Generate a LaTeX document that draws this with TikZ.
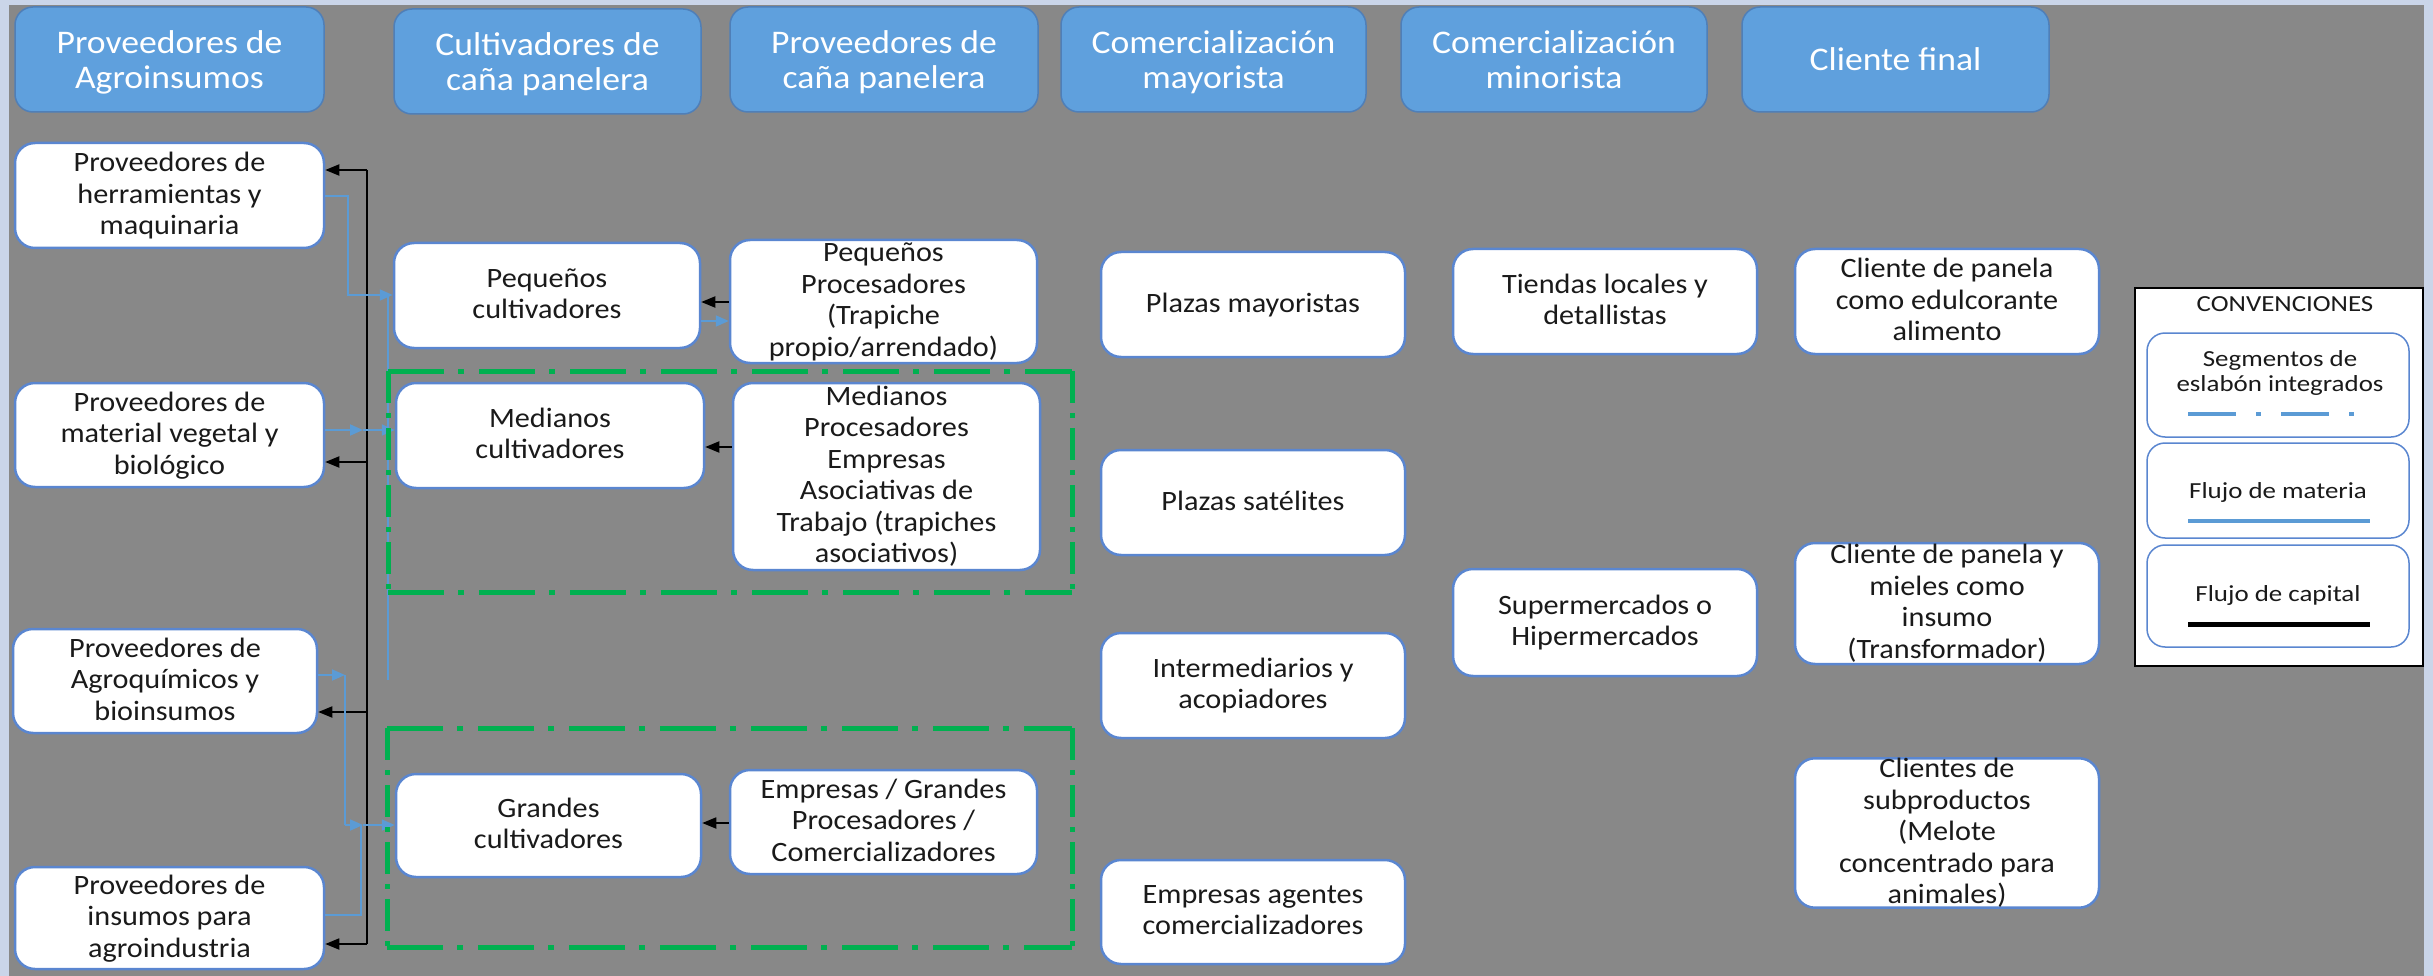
\documentclass[tikz,border=0pt]{standalone}
\usepackage{fontspec}
\setmainfont{Carlito}[FakeStretch=1.08]
\newfontfamily\legfont{Carlito}[FakeStretch=1.17]
\usetikzlibrary{arrows.meta}
\definecolor{framecol}{HTML}{CAD5E9}
\definecolor{bgcol}{HTML}{888888}
\definecolor{titlefill}{HTML}{5FA0DD}
\definecolor{titleedge}{HTML}{4F7FB8}
\definecolor{boxedge}{HTML}{5A86D0}
\definecolor{flowblue}{HTML}{5B9BD5}
\definecolor{segreen}{HTML}{00B050}
\definecolor{ink}{HTML}{1A1A1A}
\tikzset{
  titlebox/.style={rounded corners=18pt, fill=titlefill, draw=titleedge, line width=1.5pt,
    text=white, font=\fontsize{33}{35}\selectfont, align=center, inner sep=0pt, text depth=-3pt},
  wbox/.style={rounded corners=20pt, fill=white, draw=boxedge, line width=2.5pt,
    text=ink, font=\fontsize{28}{31.5}\selectfont, align=center, inner sep=0pt, text depth=4pt},
  lbox/.style={rounded corners=18pt, fill=white, draw=boxedge, line width=1.5pt,
    minimum width=262pt, inner sep=0pt},
  ltext/.style={text=ink, font=\legfont\fontsize{23}{25.5}\selectfont, align=center, inner sep=0pt},
  capline/.style={draw=black, line width=1.8pt},
  capflow/.style={capline, -{Triangle[length=14pt,width=11pt]}},
  matline/.style={draw=flowblue, line width=1.8pt},
  matflow/.style={matline, -{Triangle[length=13pt,width=11pt]}},
  seghor/.style={draw=segreen, line width=5pt, dash pattern=on 56pt off 14pt on 6pt off 15pt},
  segver/.style={draw=segreen, line width=5pt, dash pattern=on 32pt off 10pt on 5pt off 10pt},
}
\begin{document}
\begin{tikzpicture}[x=1pt,y=-1pt]
% background and frame
\fill[framecol] (0,0) rectangle (2433,976);
\useasboundingbox (0,0) rectangle (2433,976);
\fill[bgcol] (9,5) rectangle (2424,976);

% title row
\node[titlebox, minimum width=309pt, minimum height=105pt] (t1) at (169.5,59.5) {Proveedores de\\Agroinsumos};
\node[titlebox, minimum width=307pt, minimum height=105pt] (t2) at (547.5,61.5) {Cultivadores de\\caña panelera};
\node[titlebox, minimum width=308pt, minimum height=105pt] (t3) at (884,59.5) {Proveedores de\\caña panelera};
\node[titlebox, minimum width=305pt, minimum height=105pt] (t4) at (1213.5,59.5) {Comercialización\\mayorista};
\node[titlebox, minimum width=306pt, minimum height=105pt] (t5) at (1554,59.5) {Comercialización\\minorista};
\node[titlebox, minimum width=307pt, minimum height=105pt] (t6) at (1895.5,59.5) {Cliente final};

% column 1
\node[wbox, minimum width=309pt, minimum height=105pt] (a1) at (169.5,195.5) {Proveedores de\\herramientas y\\maquinaria};
\node[wbox, minimum width=309pt, minimum height=104pt] (a2) at (169.5,435) {Proveedores de\\material vegetal y\\biológico};
\node[wbox, minimum width=304pt, minimum height=104pt] (a3) at (165,681) {Proveedores de\\Agroquímicos y\\bioinsumos};
\node[wbox, minimum width=309pt, minimum height=102pt] (a4) at (169.5,918) {Proveedores de\\insumos para\\agroindustria};

% column 2
\node[wbox, minimum width=306pt, minimum height=105pt] (c1) at (547,295.5) {Pequeños\\cultivadores};
\node[wbox, minimum width=308pt, minimum height=105pt] (c2) at (550,435.5) {Medianos\\cultivadores};
\node[wbox, minimum width=305pt, minimum height=103pt] (c3) at (548.5,825.5) {Grandes\\cultivadores};

% column 3
\node[wbox, minimum width=307pt, minimum height=123pt] (p1) at (883.5,301.5) {Pequeños\\Procesadores\\(Trapiche\\propio/arrendado)};
\node[wbox, minimum width=307pt, minimum height=187pt] (p2) at (886.5,476.5) {Medianos\\Procesadores\\Empresas\\Asociativas de\\Trabajo (trapiches\\asociativos)};
\node[wbox, minimum width=307pt, minimum height=104pt] (p3) at (883.5,822) {Empresas / Grandes\\Procesadores /\\Comercializadores};

% column 4
\node[wbox, minimum width=304pt, minimum height=105pt] (m1) at (1253,304.5) {Plazas mayoristas};
\node[wbox, minimum width=304pt, minimum height=105pt] (m2) at (1253,502.5) {Plazas satélites};
\node[wbox, minimum width=304pt, minimum height=105pt] (m3) at (1253,685.5) {Intermediarios y\\acopiadores};
\node[wbox, minimum width=304pt, minimum height=104pt] (m4) at (1253,912) {Empresas agentes\\comercializadores};

% column 5
\node[wbox, minimum width=304pt, minimum height=105pt] (r1) at (1605,301.5) {Tiendas locales y\\detallistas};
\node[wbox, minimum width=304pt, minimum height=107pt] (r2) at (1605,622.5) {Supermercados o\\Hipermercados};

% column 6
\node[wbox, minimum width=304pt, minimum height=105pt] (f1) at (1947,301.5) {Cliente de panela\\como edulcorante\\alimento};
\node[wbox, minimum width=304pt, minimum height=121pt] (f2) at (1947,603.5) {Cliente de panela y\\mieles como\\insumo\\(Transformador)};
\node[wbox, minimum width=304pt, minimum height=148pt] (f3) at (1947,833) {Clientes de\\subproductos\\(Melote\\concentrado para\\animales)};

% capital flow (black)
\coordinate (sp1) at (367,170);
\coordinate (sp2) at (367,462);
\coordinate (sp3) at (367,712);
\coordinate (sp4) at (367,944);
\draw[capline] (sp1) -- (sp4);
\draw[capflow] (sp1) -- (a1.east |- sp1);
\draw[capflow] (sp2) -- (a2.east |- sp2);
\draw[capflow] (sp3) -- (a3.east |- sp3);
\draw[capflow] (sp4) -- (a4.east |- sp4);
\draw[capflow] (p1.west |- 0,302) -- (c1.east |- 0,302);
\draw[capflow] (p2.west |- 0,447) -- (c2.east |- 0,447);
\draw[capflow] (p3.west |- 0,823) -- (c3.east |- 0,823);

% material flow (blue)
\coordinate (bend1) at (348,295);
\draw[matflow] (a1.east |- 0,196) -| (bend1) -- (c1.west |- bend1);
\draw[matflow] (c1.east |- 0,321) -- (p1.west |- 0,321);
\coordinate (bus1) at (388,296);
\coordinate (bus2) at (388,680);
\draw[draw=flowblue, line width=1.2pt] (bus1) -- (bus2);
\coordinate (j2) at (363,430);
\draw[matflow] (a2.east |- j2) -- (j2);
\draw[matflow] (j2) -- (c2.west |- j2);
\coordinate (j3a) at (345,675);
\coordinate (j3b) at (345,825);
\coordinate (j3c) at (363,825);
\draw[matflow] (a3.east |- j3a) -- (j3a);
\draw[matline] (j3a) -- (j3b);
\draw[matflow] (j3b) -- (j3c);
\draw[matflow] (j3c) -- (c3.west |- j3c);
\coordinate (j4) at (361,825);
\draw[matline] (a4.east |- 0,915) -| (j4);

% integrated link segments (green dash-dot)
\draw[seghor] (388,371) -- (1072,371);
\draw[seghor] (388,592) -- (1072,592);
\draw[segver] (388,371) -- (388,592);
\draw[segver] (1072,371) -- (1072,592);
\draw[seghor] (387,728) -- (1072,728);
\draw[seghor] (387,947) -- (1072,947);
\draw[segver] (387,728) -- (387,947);
\draw[segver] (1072,728) -- (1072,947);

% legend
\node[draw=black, line width=2.5pt, fill=white, minimum width=288pt, minimum height=378pt, inner sep=0pt] (leg) at (2279,477) {};
\node[ltext] (legt) at (2285,304) {CONVENCIONES};
\node[lbox, minimum height=104pt] (l1) at (2278,385) {};
\node[lbox, minimum height=95pt] (l2) at (2278,490.5) {};
\node[lbox, minimum height=102pt] (l3) at (2278,596) {};
\node[ltext] (l1t) at (2280,373) {Segmentos de\\eslabón integrados};
\node[ltext] (l2t) at (2278,492) {Flujo de materia};
\node[ltext] (l3t) at (2278,595) {Flujo de capital};
\draw[draw=flowblue, line width=4pt, dash pattern=on 48pt off 20pt on 5pt off 20pt] (2188,414) -- (2357,414);
\draw[draw=flowblue, line width=4pt] (2188,521) -- (2370,521);
\draw[draw=black, line width=5pt] (2188,624) -- (2370,624);
\end{tikzpicture}
\end{document}
